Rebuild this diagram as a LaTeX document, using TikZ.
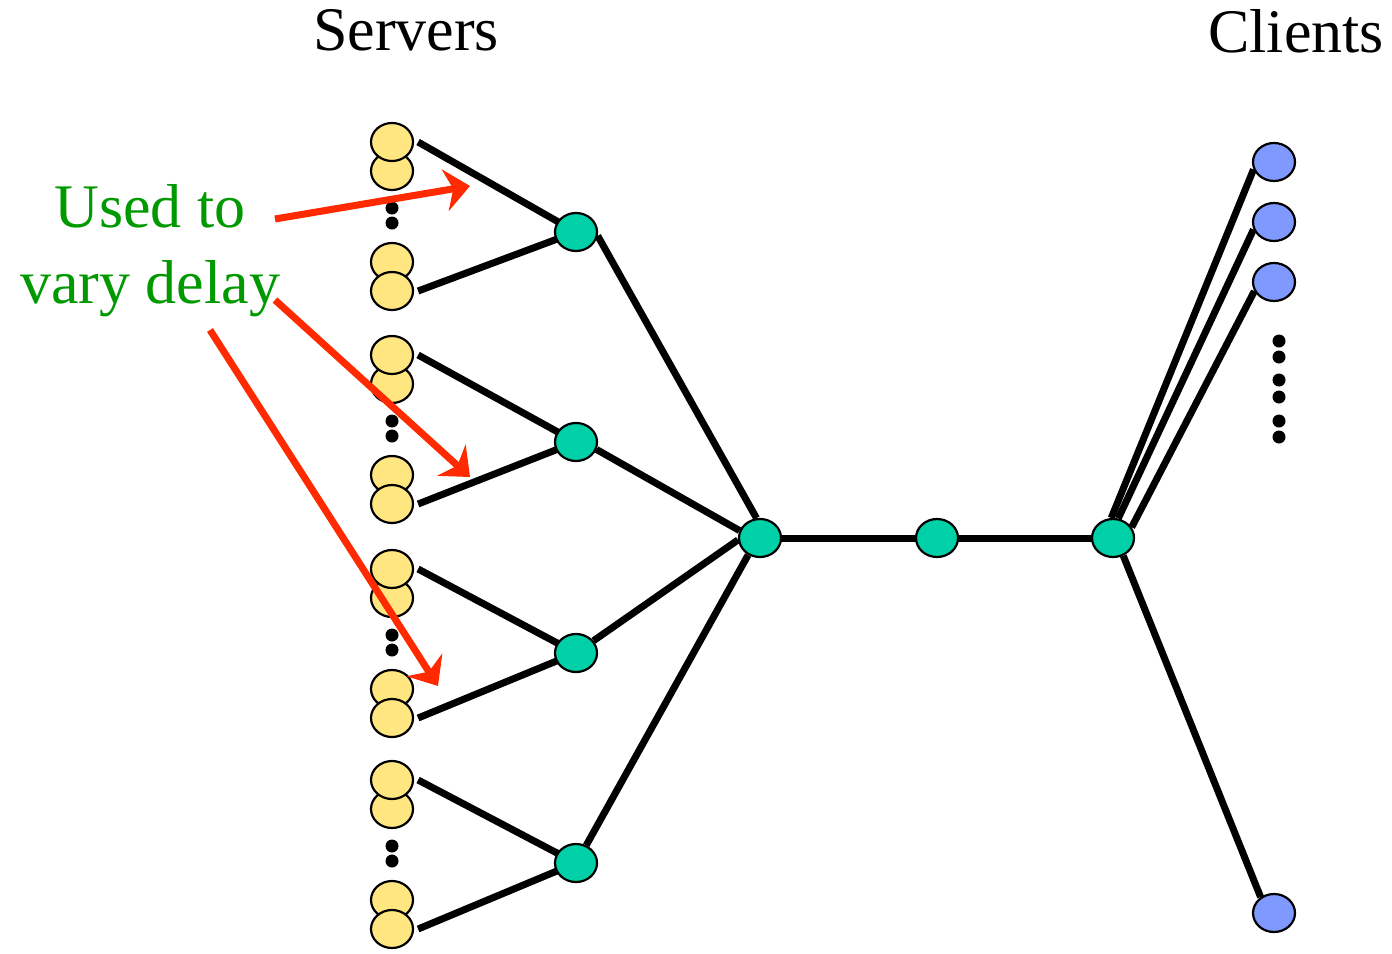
\documentclass[tikz,border=0pt]{standalone}
\usepackage{fontspec}
\setmainfont{Liberation Serif}
\usetikzlibrary{arrows.meta,shapes.geometric}
\pgfdeclarelayer{bg}
\pgfsetlayers{bg,main}
\definecolor{srvfill}{HTML}{FFE680}
\definecolor{hubfill}{HTML}{00D0A8}
\definecolor{clifill}{HTML}{8099FF}
\definecolor{arrred}{HTML}{FF2A00}
\definecolor{txtgreen}{HTML}{009900}
\tikzset{
  nd/.style={ellipse, draw=black, line width=2.2bp, minimum width=42bp, minimum height=38bp, inner sep=0pt},
  srv/.style={nd, fill=srvfill},
  hub/.style={nd, fill=hubfill},
  cli/.style={nd, fill=clifill},
  link/.style={line width=7bp, draw=black},
  blackdot/.style={circle, fill=black, minimum size=13bp, inner sep=0pt},
  redarrow/.style={draw=arrred, line width=7bp, -{Stealth[length=25bp,width=42bp,inset=8bp]}},
  lbl/.style={font=\fontsize{62bp}{74bp}\selectfont, inner sep=0pt, anchor=base}
}
\begin{document}
\begin{tikzpicture}[x=1bp,y=-1bp]
\useasboundingbox (0,0) rectangle (1392,953);

% labels
\node[lbl] (servers) at (406,50) {Servers};
\node[lbl] (clients) at (1296,52) {Clients};
\node[lbl, text=txtgreen] (t1) at (150,227) {Used to};
\node[lbl, text=txtgreen] (t2) at (150,303) {vary delay};

% server groups
\foreach \g/\y in {1/142,2/355,3/569,4/780}{
  \node[srv] (s\g b) at (392,\y+29) {};
  \node[srv] (s\g a) at (392,\y) {};
  \node[blackdot] (d\g a) at (392,\y+66) {};
  \node[blackdot] (d\g b) at (392,\y+81) {};
  \node[srv] (s\g c) at (392,\y+120) {};
  \node[srv] (s\g d) at (392,\y+149) {};
}

% hubs
\node[hub] (h1) at (576,232) {};
\node[hub] (h2) at (576,442) {};
\node[hub] (h3) at (576,653) {};
\node[hub] (h4) at (576,863) {};
\node[hub] (hc) at (760,538) {};
\node[hub] (hm) at (937,538) {};
\node[hub] (hr) at (1113,538) {};

% clients
\node[cli] (c1) at (1274,162) {};
\node[cli] (c2) at (1274,222) {};
\node[cli] (c3) at (1274,282) {};
\node[cli] (c4) at (1274,913) {};
\foreach \i/\y in {1/341,2/357,3/380,4/397,5/421,6/437}{
  \node[blackdot] (cd\i) at (1279,\y) {};
}

% background and links behind nodes
\begin{pgfonlayer}{bg}
\fill[white] (0,0) rectangle (1392,953);
\foreach \g in {1,2,3,4}{
  \draw[link] ([xshift=4bp]s\g a.east) -- (h\g.center);
  \draw[link] ([xshift=4bp]s\g d.east) -- (h\g.center);
}
\draw[link] (h1.-10) -- (hc.100);
\draw[link] (h2.-20) -- (hc.160);
\draw[link] (h3.35) -- (hc.185);
\draw[link] (h4.60) -- (hc.235);
\draw[link] (hc.center) -- (hm.center);
\draw[link] (hm.center) -- (hr.center);
\draw[link] (hr.95) -- (c1.200);
\draw[link] (hr.75) -- (c2.200);
\draw[link] (hr.30) -- (c3.205);
\draw[link] (hr.-60) -- (c4.130);
\end{pgfonlayer}

% red arrows
\coordinate (a1s) at (275,219);
\coordinate (a1e) at (470,186);
\coordinate (a2s) at (275,300);
\coordinate (a2e) at (470,477);
\coordinate (a3s) at (210,330);
\coordinate (a3e) at (438,686);
\draw[redarrow] (a1s) -- (a1e);
\draw[redarrow] (a2s) -- (a2e);
\draw[redarrow] (a3s) -- (a3e);
\end{tikzpicture}
\end{document}
